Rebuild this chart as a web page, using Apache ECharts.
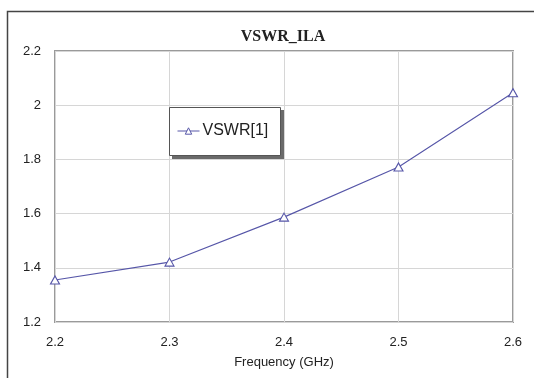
<!DOCTYPE html>
<html>
<head>
<meta charset="utf-8">
<title>VSWR_ILA</title>
<script src="https://cdn.jsdelivr.net/npm/echarts@6/dist/echarts.min.js"></script>
<style>
  html, body { margin: 0; padding: 0; background: #ffffff; }
  #chart { width: 534px; height: 378px; }
</style>
</head>
<body>
<div id="chart"></div>
<script>
// Sweep frequencies (GHz) and the measured VSWR at each
const frequencies = [2.2, 2.3, 2.4, 2.5, 2.6];
const vswr = [1.355, 1.421, 1.587, 1.772, 2.046];
const seriesName = 'VSWR[1]';
const chartTitle = 'VSWR_ILA';
const xAxisTitle = 'Frequency (GHz)';

const points = frequencies.map((f, i) => [f, vswr[i]]);
const lineColor = '#5656a8';
const sans = '"Liberation Sans", Arial, sans-serif';

const chart = echarts.init(document.getElementById('chart'), null, { renderer: 'canvas' });
chart.setOption({
  backgroundColor: '#ffffff',
  animation: false,
  title: {
    text: chartTitle,
    left: 283,
    top: 29,
    padding: 0,
    textAlign: 'center',
    textStyle: {
      fontFamily: '"Liberation Serif", "Times New Roman", serif',
      fontWeight: 'bold',
      fontSize: 16,
      color: '#222'
    }
  },
  graphic: [
    {
      // page frame along the top and left edges
      type: 'polyline',
      silent: true,
      shape: { points: [[7.5, 378], [7.5, 11.5], [534, 11.5]] },
      style: { stroke: '#444', lineWidth: 1.5, fill: null }
    },
    {
      // drop shadow behind the legend box
      type: 'rect',
      silent: true,
      z: 3,
      shape: { x: 172, y: 110, width: 112, height: 49 },
      style: { fill: '#6a6a6a' }
    },
    {
      // legend box
      type: 'rect',
      silent: true,
      z: 3,
      zlevel: 0,
      shape: { x: 169.5, y: 107.5, width: 111, height: 48 },
      style: { fill: '#ffffff', stroke: '#555', lineWidth: 1 }
    }
  ],
  legend: {
    left: 169,
    top: 107,
    orient: 'vertical',
    padding: [16, 14, 16, 8],
    itemWidth: 22,
    itemHeight: 8,
    z: 5,
    textStyle: { fontFamily: sans, fontSize: 16, color: '#222', padding: [0, 0, 0, -2] },
    lineStyle: { width: 1 },
    itemStyle: { borderWidth: 1 },
    data: [seriesName]
  },
  grid: {
    left: 55,
    right: 21,
    top: 51,
    bottom: 56,
    show: true,
    borderColor: '#9a9a9a',
    borderWidth: 2,
    backgroundColor: '#ffffff'
  },
  xAxis: {
    type: 'value',
    min: 2.2,
    max: 2.6,
    interval: 0.1,
    name: xAxisTitle,
    nameLocation: 'middle',
    nameGap: 34,
    nameTextStyle: { fontFamily: sans, fontSize: 13, color: '#222' },
    axisLine: { show: false },
    axisTick: { show: false },
    axisLabel: {
      margin: 14,
      fontFamily: sans,
      fontSize: 13,
      color: '#222',
      formatter: v => v.toFixed(1)
    },
    splitLine: { show: true, lineStyle: { color: '#d6d6d6', width: 1 } }
  },
  yAxis: {
    type: 'value',
    min: 1.2,
    max: 2.2,
    interval: 0.2,
    axisLine: { show: false },
    axisTick: { show: false },
    axisLabel: {
      margin: 14,
      fontFamily: sans,
      fontSize: 13,
      color: '#222',
      padding: [4, 0, 0, 0],
      formatter: v => String(Math.round(v * 10) / 10)
    },
    splitLine: { show: true, lineStyle: { color: '#d6d6d6', width: 1 } }
  },
  series: [
    {
      name: seriesName,
      type: 'line',
      data: points,
      symbol: 'triangle',
      symbolSize: [9, 8],
      showAllSymbol: true,
      lineStyle: { color: lineColor, width: 1.1 },
      itemStyle: { color: '#ffffff', borderColor: lineColor, borderWidth: 1.1 },
      emphasis: { disabled: true }
    }
  ]
});
</script>
</body>
</html>
